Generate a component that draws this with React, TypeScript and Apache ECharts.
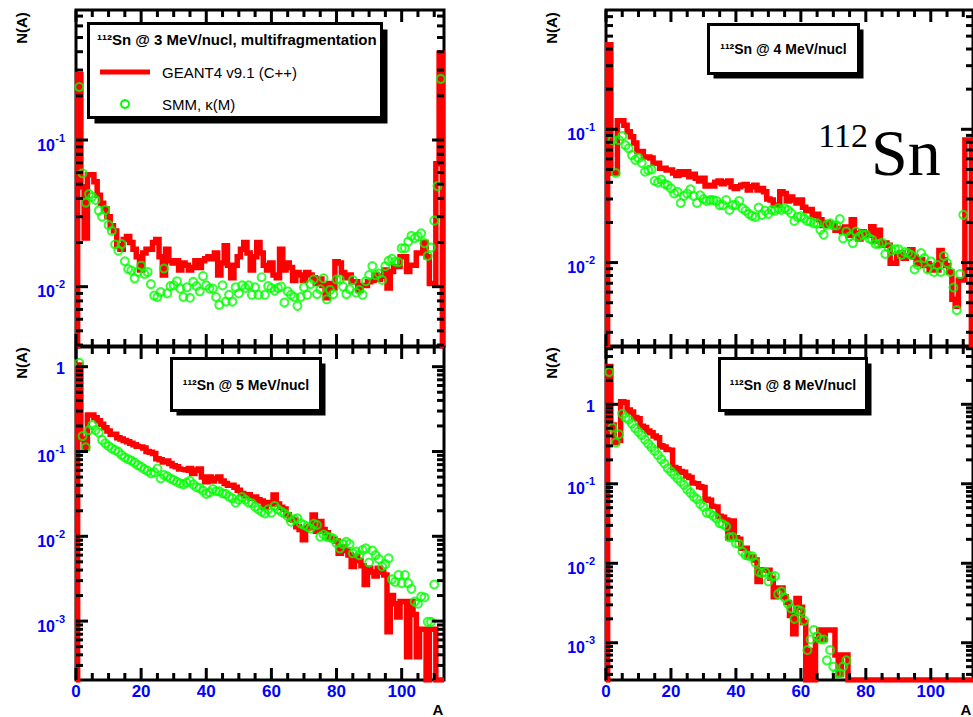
import React, { useEffect, useRef } from "react";
import * as echarts from "echarts";

// ---------------- data (index 0 -> A = 1) ----------------
const X_MAX = 113;
const X_TICK_LABELS = [0, 20, 40, 60, 80, 100];

// 112Sn @ 3 MeV/nucl
const G4_3 = [
  0.28, 0.048, 0.0215, 0.058, 0.058, 0.052, 0.042, 0.037, 0.034, 0.03,
  0.026, 0.024, 0.019, 0.018, 0.021, 0.022, 0.02, 0.018, 0.016, 0.013,
  0.017, 0.018, 0.018, 0.02, 0.021, 0.016, 0.012, 0.018, 0.015, 0.0145,
  0.015, 0.013, 0.0145, 0.014, 0.013, 0.0135, 0.015, 0.0135, 0.015, 0.0155,
  0.016, 0.0155, 0.017, 0.012, 0.0145, 0.019, 0.014, 0.0115, 0.014, 0.016,
  0.018, 0.02, 0.017, 0.013, 0.016, 0.02, 0.017, 0.014, 0.013, 0.0145,
  0.012, 0.0115, 0.018, 0.013, 0.0145, 0.0135, 0.011, 0.0125, 0.012, 0.011,
  0.0125, 0.012, 0.0115, 0.0105, 0.0113, 0.0102, 0.0084, 0.0105, 0.0098, 0.0148,
  0.0145, 0.0125, 0.0115, 0.012, 0.0108, 0.0108, 0.0095, 0.0102, 0.0102, 0.0108,
  0.011, 0.012, 0.0112, 0.0118, 0.013, 0.0098, 0.0127, 0.0137, 0.0137, 0.016,
  0.016, 0.0127, 0.014, 0.014, 0.017, 0.017, 0.02, 0.016, 0.0105, 0.0105,
  0.069, 0.39,
];
const SMM_3 = [
  0.23, 0.0593, 0.0374, 0.0428, 0.041, 0.039, 0.033, 0.03, 0.0334, 0.0263,
  0.024, 0.0194, 0.0176, 0.0195, 0.0149, 0.0132, 0.0129, 0.0114, 0.0126, 0.0139,
  0.0122, 0.0126, 0.0104, 0.0087, 0.0085, 0.0092, 0.0133, 0.009, 0.0101, 0.0102,
  0.0109, 0.0097, 0.0085, 0.0099, 0.0084, 0.0108, 0.0101, 0.0093, 0.0118, 0.0102,
  0.0097, 0.0097, 0.0085, 0.0075, 0.0102, 0.0079, 0.0088, 0.0079, 0.0099, 0.009,
  0.0102, 0.0098, 0.0102, 0.0088, 0.0099, 0.0088, 0.0116, 0.0088, 0.0101, 0.0098,
  0.0094, 0.0098, 0.01, 0.0078, 0.0093, 0.0088, 0.0085, 0.0074, 0.0085, 0.0099,
  0.0088, 0.0104, 0.0112, 0.0089, 0.0096, 0.0114, 0.0082, 0.0095, 0.0089, 0.0112,
  0.0112, 0.01, 0.0089, 0.0096, 0.0111, 0.0091, 0.0095, 0.0088, 0.0109, 0.012,
  0.0138, 0.012, 0.0123, 0.0111, 0.0138, 0.015, 0.0155, 0.0148, 0.0147, 0.0183,
  0.0183, 0.0203, 0.0222, 0.0214, 0.022, 0.0231, 0.0198, 0.0162, 0.0185, 0.0282,
  0.0485, 0.261,
];

// 112Sn @ 4 MeV/nucl
const G4_4 = [
  0.43, 0.047, 0.047, 0.116, 0.116, 0.107, 0.096, 0.088, 0.079, 0.068,
  0.068, 0.062, 0.062, 0.061, 0.0556, 0.0556, 0.051, 0.051, 0.0496, 0.0496,
  0.047, 0.045, 0.048, 0.046, 0.048, 0.044, 0.046, 0.043, 0.041, 0.043,
  0.0375, 0.038, 0.0375, 0.04, 0.041, 0.039, 0.04, 0.041, 0.037, 0.036,
  0.037, 0.038, 0.0385, 0.035, 0.037, 0.038, 0.035, 0.036, 0.034, 0.03,
  0.0295, 0.027, 0.027, 0.034, 0.033, 0.029, 0.031, 0.0295, 0.028, 0.0295,
  0.026, 0.0245, 0.025, 0.0225, 0.023, 0.021, 0.019, 0.02, 0.0195, 0.019,
  0.0175, 0.018, 0.017, 0.0185, 0.016, 0.021, 0.0165, 0.015, 0.017, 0.0165,
  0.016, 0.0186, 0.0145, 0.0175, 0.0135, 0.014, 0.0135, 0.0099, 0.0099, 0.0115,
  0.0118, 0.0108, 0.0112, 0.0125, 0.011, 0.0098, 0.0105, 0.0095, 0.0098, 0.0088,
  0.0095, 0.0088, 0.0123, 0.0105, 0.0095, 0.0085, 0.0053, 0.0047, 0.0074, 0.0074,
  0.083, 0.083,
];
const SMM_4 = [
  null, 0.083, 0.047, 0.083, 0.089, 0.076, 0.072, 0.064, 0.059, 0.061,
  0.056, 0.048, 0.0495, 0.05, 0.041, 0.04, 0.042, 0.039, 0.038, 0.036,
  0.033, 0.034, 0.028, 0.0316, 0.033, 0.0355, 0.0316, 0.028, 0.032, 0.03,
  0.029, 0.0295, 0.0295, 0.029, 0.027, 0.027, 0.0295, 0.0248, 0.027, 0.027,
  0.029, 0.0255, 0.0245, 0.0232, 0.0224, 0.022, 0.0259, 0.0228, 0.0245, 0.0232,
  0.0248, 0.0245, 0.0255, 0.0248, 0.0256, 0.0248, 0.0235, 0.0205, 0.022, 0.0222,
  0.0215, 0.0205, 0.0203, 0.0197, 0.0197, 0.0176, 0.0162, 0.0192, 0.0197, 0.019,
  0.019, 0.0212, 0.0152, 0.0171, 0.0157, 0.014, 0.0171, 0.0157, 0.0162, 0.0162,
  0.0152, 0.0148, 0.0138, 0.0138, 0.0141, 0.0116, 0.013, 0.0123, 0.0126, 0.0126,
  0.0114, 0.012, 0.0118, 0.0114, 0.0089, 0.0096, 0.0118, 0.0108, 0.0089, 0.0102,
  0.0085, 0.0096, 0.0085, 0.0112, 0.0099, 0.0085, 0.0065, 0.0044, 0.0082, 0.0228,
];

// 112Sn @ 5 MeV/nucl
const G4_5 = [
  1.05, 0.14, 0.11, 0.27, 0.27, 0.25, 0.23, 0.21, 0.19, 0.175,
  0.16, 0.16, 0.145, 0.14, 0.135, 0.13, 0.125, 0.12, 0.115, 0.113,
  0.11, 0.1, 0.098, 0.095, 0.082, 0.08, 0.075, 0.077, 0.072, 0.068,
  0.066, 0.062, 0.061, 0.06, 0.063, 0.055, 0.06, 0.062, 0.05, 0.044,
  0.05, 0.045, 0.048, 0.05, 0.045, 0.042, 0.04, 0.04, 0.038, 0.035,
  0.032, 0.03, 0.031, 0.028, 0.029, 0.027, 0.026, 0.022, 0.025, 0.024,
  0.0307, 0.024, 0.022, 0.021, 0.018, 0.016, 0.0155, 0.013, 0.012, 0.0091,
  0.0125, 0.013, 0.0178, 0.0115, 0.0149, 0.012, 0.011, 0.0095, 0.0092, 0.0088,
  0.0063, 0.0075, 0.0068, 0.006, 0.0044, 0.0058, 0.0052, 0.0045, 0.0027, 0.0042,
  0.0038, 0.0034, 0.0042, 0.0038, 0.0035, 0.00075, 0.002, 0.0016, 0.00112, 0.0017,
  0.0017, 0.00038, 0.0017, 0.0012, 0.00038, 0.0008, 0.0008, 0, 0.0008, 0.0008,
  0, 0,
];
const SMM_5 = [
  1.11, 0.152, 0.112, 0.179, 0.205, 0.179, 0.167, 0.137, 0.125, 0.116,
  0.109, 0.104, 0.099, 0.091, 0.085, 0.081, 0.078, 0.074, 0.069, 0.066,
  0.062, 0.059, 0.055, 0.057, 0.063, 0.048, 0.0528, 0.051, 0.048, 0.046,
  0.044, 0.042, 0.041, 0.043, 0.045, 0.041, 0.038, 0.037, 0.0345, 0.0316,
  0.033, 0.036, 0.034, 0.034, 0.032, 0.0316, 0.0293, 0.028, 0.025, 0.027,
  0.029, 0.027, 0.025, 0.0245, 0.0223, 0.0208, 0.0195, 0.0186, 0.0208, 0.019,
  0.0228, 0.0208, 0.0195, 0.0186, 0.0173, 0.0149, 0.0159, 0.0163, 0.0142, 0.0136,
  0.013, 0.0124, 0.014, 0.0136, 0.0099, 0.0105, 0.0099, 0.0097, 0.0094, 0.0083,
  0.0072, 0.0081, 0.0086, 0.0081, 0.0063, 0.0066, 0.006, 0.0069, 0.0072, 0.0049,
  0.0068, 0.006, 0.0054, 0.0044, 0.0047, 0.0055, 0.0031, 0.0029, 0.0035, 0.0028,
  0.0035, 0.0028, 0.0024, 0.0017, 0.0016, 0.00195, 0.0019, 0.00098, 0.00098, 0.0027,
];

// 112Sn @ 8 MeV/nucl
const G4_8 = [
  3.0, 0.55, 0.33, 0.35, 1.08, 1.05, 0.85, 0.8, 0.68, 0.66,
  0.53, 0.51, 0.46, 0.44, 0.4, 0.38, 0.3, 0.29, 0.27, 0.265,
  0.16, 0.155, 0.143, 0.14, 0.125, 0.12, 0.102, 0.1, 0.092, 0.09,
  0.064, 0.062, 0.052, 0.051, 0.039, 0.038, 0.035, 0.021, 0.034, 0.021,
  0.02, 0.0155, 0.0155, 0.012, 0.012, 0.011, 0.0059, 0.0083, 0.0082, 0.0082,
  0.0065, 0.0038, 0.0049, 0.0049, 0.0038, 0.0032, 0.0022, 0.0013, 0.0036, 0.0028,
  0.0018, 0, 0.0008, 0, 0.0011, 0.00145, 0.0011, 0.00145, 0.00145, 0.00145,
  0.0007, 0.0004, 0.0007, 0.0007, 0, 0, 0, 0, 0, 0,
  0, 0, 0, 0, 0, 0, 0, 0, 0, 0,
  0, 0, 0, 0, 0, 0, 0, 0, 0, 0,
  0, 0, 0, 0, 0, 0, 0, 0, 0, 0,
  0, 0,
];
const SMM_8 = [
  2.55, 0.51, 0.33, 0.42, 0.76, 0.68, 0.64, 0.57, 0.5, 0.45,
  0.41, 0.36, 0.32, 0.288, 0.259, 0.23, 0.203, 0.18, 0.157, 0.142,
  0.13, 0.117, 0.106, 0.097, 0.085, 0.077, 0.069, 0.064, 0.056, 0.0513,
  0.0434, 0.0425, 0.0395, 0.0368, 0.0319, 0.031, 0.029, 0.0212, 0.0214, 0.0179,
  0.0175, 0.014, 0.0127, 0.0124, 0.0122, 0.0102, 0.0078, 0.0075, 0.0078, 0.0059,
  0.0068, 0.0069, 0.0041, 0.0044, 0.0037, 0.0031, 0.0027, 0.002, 0.0026, 0.0025,
  0.0019, 0.00081, 0.0011, 0.00145, 0.0012, 0.0011, 0.0011, 0.0006, 0.00081, 0.0005,
  0.00041, 0.00041, 0.0005, 0.0006,
];

// ---------------- layout / styling ----------------
const SANS = '"Liberation Sans", Arial, Helvetica, sans-serif';
const SERIF = '"Liberation Serif", "Times New Roman", serif';
const RED = "#ff0000";
const GREEN = "#00ff00";
const BLUE = "#0000ff";

const PANELS = [
  { red: G4_3, green: SMM_3, yMin: 0.00394, yMax: 0.77, left: 76, top: 10, width: 368, height: 336, xLabels: false },
  { red: G4_4, green: SMM_4, yMin: 0.002367, yMax: 0.785, left: 606, top: 10, width: 367, height: 336, xLabels: false },
  { red: G4_5, green: SMM_5, yMin: 0.000202, yMax: 1.707, left: 76, top: 347, width: 368, height: 333, xLabels: true },
  { red: G4_8, green: SMM_8, yMin: 0.00034, yMax: 5.26, left: 606, top: 347, width: 367, height: 333, xLabels: true },
];

function histData(vals: number[], yMin: number) {
  const d: number[][] = [[0, yMin]];
  vals.forEach((v, i) => d.push([i + 1, v > 0 ? v : yMin]));
  d.push([vals.length + 1, yMin]);
  return d;
}
function pointData(vals: (number | null)[]) {
  const d: number[][] = [];
  vals.forEach((v, i) => {
    if (v != null) d.push([i + 1, v]);
  });
  return d;
}
// codes: 0 left major, 1 left minor, 2 right major, 3 right minor,
//        4 bottom major, 5 bottom minor, 6 top major, 7 top minor
function tickData(yMin: number, yMax: number) {
  const d: number[][] = [];
  const e0 = Math.floor(Math.log10(yMin));
  const e1 = Math.ceil(Math.log10(yMax));
  for (let e = e0; e <= e1; e++) {
    for (let m = 1; m <= 9; m++) {
      const v = m * Math.pow(10, e);
      if (v < yMin || v > yMax) continue;
      d.push([0, v, m === 1 ? 0 : 1]);
      d.push([0, v, m === 1 ? 2 : 3]);
    }
  }
  for (let a = 0; a <= X_MAX; a += 5) {
    const major = X_TICK_LABELS.indexOf(a) >= 0;
    d.push([a, yMin, major ? 4 : 5]);
    d.push([a, yMin, major ? 6 : 7]);
  }
  return d;
}

function txt(text: string, x: number, y: number, align: string, size: number, color = BLUE) {
  return {
    type: "text",
    silent: true,
    style: {
      text,
      x,
      y,
      fill: color,
      font: `bold ${size}px ${SANS}`,
      align,
      verticalAlign: "middle",
    },
  };
}

function makeTickRenderer(xLabels: boolean) {
  return (params: any, api: any) => {
    const cs = params.coordSys;
    const code = api.value(2);
    const kids: any[] = [];
    const st = { stroke: "#000", lineWidth: 3 };
    if (code <= 3) {
      const v = api.value(1);
      const y = api.coord([0, v])[1];
      const len = code % 2 === 0 ? 12 : 7;
      const x0 = code < 2 ? cs.x : cs.x + cs.width;
      const x1 = code < 2 ? x0 + len : x0 - len;
      kids.push({ type: "line", silent: true, shape: { x1: x0, y1: y, x2: x1, y2: y }, style: st });
      if (code === 0) {
        const e = Math.round(Math.log10(v));
        if (e === 0) {
          kids.push(txt("1", x0 - 11, y + 2, "right", 16));
        } else {
          kids.push(txt("10", x0 - 21, y + 5, "right", 16));
          kids.push(txt(String(e), x0 - 11, y - 2.5, "right", 11));
        }
      }
    } else {
      const a = api.value(0);
      const x = api.coord([a, api.value(1)])[0];
      const len = code % 2 === 0 ? 12 : 7;
      const bottom = code < 6;
      const y0 = bottom ? cs.y + cs.height : cs.y;
      const y1 = bottom ? y0 - len : y0 + len;
      kids.push({ type: "line", silent: true, shape: { x1: x, y1: y0, x2: x, y2: y1 }, style: st });
      if (code === 4 && xLabels) kids.push(txt(String(a), x, y0 + 11, "center", 17));
    }
    return { type: "group", children: kids };
  };
}

function gText(text: string, x: number, y: number, font: string, align = "left", extra: any = {}) {
  return {
    type: "text",
    x,
    y,
    z: 110,
    ...extra,
    style: { text, font, fill: "#000", align, textAlign: align, verticalAlign: "middle", textVerticalAlign: "middle" },
  };
}
function box(x: number, y: number, w: number, h: number, sh: number) {
  return [
    { type: "rect", z: 100, shape: { x: x + sh, y: y + sh, width: w, height: h }, style: { fill: "#000" } },
    { type: "rect", z: 101, shape: { x, y, width: w, height: h }, style: { fill: "#fff", stroke: "#000", lineWidth: 3 } },
  ];
}

function buildOption() {
  const grid: any[] = [];
  const xAxis: any[] = [];
  const yAxis: any[] = [];
  const series: any[] = [];
  PANELS.forEach((p, i) => {
    grid.push({
      left: p.left,
      top: p.top,
      width: p.width,
      height: p.height,
      show: true,
      borderColor: "#000",
      borderWidth: 3,
      backgroundColor: "transparent",
    });
    xAxis.push({ type: "value", gridIndex: i, min: 0, max: X_MAX, show: false });
    yAxis.push({ type: "log", logBase: 10, gridIndex: i, min: p.yMin, max: p.yMax, show: false });
    series.push({
      type: "line",
      xAxisIndex: i,
      yAxisIndex: i,
      step: "middle",
      showSymbol: false,
      symbol: "none",
      z: 2,
      lineStyle: { color: RED, width: 5.5, join: "miter", cap: "butt" },
      data: histData(p.red as number[], p.yMin),
    });
    series.push({
      type: "scatter",
      xAxisIndex: i,
      yAxisIndex: i,
      symbol: "circle",
      symbolSize: 8,
      z: 3,
      itemStyle: { color: "rgba(0,0,0,0)", borderColor: GREEN, borderWidth: 2 },
      data: pointData(p.green as (number | null)[]),
    });
    series.push({
      type: "custom",
      xAxisIndex: i,
      yAxisIndex: i,
      z: 5,
      clip: false,
      silent: true,
      renderItem: makeTickRenderer(p.xLabels),
      encode: { x: 0, y: 1 },
      data: tickData(p.yMin, p.yMax),
    });
  });

  const elements: any[] = [
    // axis titles
    gText("N(A)", 21, 28, `bold 15px ${SANS}`, "center", { rotation: Math.PI / 2 }),
    gText("N(A)", 551, 28, `bold 15px ${SANS}`, "center", { rotation: Math.PI / 2 }),
    gText("N(A)", 21, 363, `bold 15px ${SANS}`, "center", { rotation: Math.PI / 2 }),
    gText("N(A)", 551, 363, `bold 15px ${SANS}`, "center", { rotation: Math.PI / 2 }),
    gText("A", 438, 709, `bold 15px ${SANS}`, "center"),
    gText("A", 966, 709, `bold 15px ${SANS}`, "center"),
    // legend (3 MeV)
    ...box(88.5, 23.5, 293, 94, 6),
    gText("\u00b9\u00b9\u00b2Sn @ 3 MeV/nucl, multifragmentation", 97, 39, `bold 15px ${SANS}`),
    { type: "line", z: 110, shape: { x1: 100, y1: 72, x2: 150, y2: 72 }, style: { stroke: RED, lineWidth: 5 } },
    gText("GEANT4 v9.1 (C++)", 162, 72, `15px ${SANS}`),
    { type: "circle", z: 110, shape: { cx: 125, cy: 104, r: 4 }, style: { fill: "none", stroke: GREEN, lineWidth: 2 } },
    gText("SMM, \u03ba(M)", 162, 104, `15px ${SANS}`),
    // titles
    ...box(708.5, 24.5, 150, 49, 5),
    gText("\u00b9\u00b9\u00b2Sn @ 4 MeV/nucl", 783.5, 49, `bold 14px ${SANS}`, "center"),
    ...box(171.5, 358.5, 149, 52, 5),
    gText("\u00b9\u00b9\u00b2Sn @ 5 MeV/nucl", 246, 384.5, `bold 14px ${SANS}`, "center"),
    ...box(719.5, 358.5, 147, 52, 5),
    gText("\u00b9\u00b9\u00b2Sn @ 8 MeV/nucl", 793, 384.5, `bold 14px ${SANS}`, "center"),
    // big label
    gText("112", 868, 135, `34px ${SERIF}`, "right"),
    gText("Sn", 871, 152, `66px ${SERIF}`, "left"),
  ];

  return {
    animation: false,
    backgroundColor: "#ffffff",
    grid,
    xAxis,
    yAxis,
    series,
    graphic: { elements },
  };
}

export default function App() {
  const ref = useRef<HTMLDivElement>(null);
  useEffect(() => {
    const chart = echarts.init(ref.current as HTMLDivElement, null, { renderer: "svg" });
    chart.setOption(buildOption() as any);
    return () => chart.dispose();
  }, []);
  return (
    <div
      ref={ref}
      style={{ position: "absolute", left: 0, top: 0, width: 973, height: 717 }}
    />
  );
}
